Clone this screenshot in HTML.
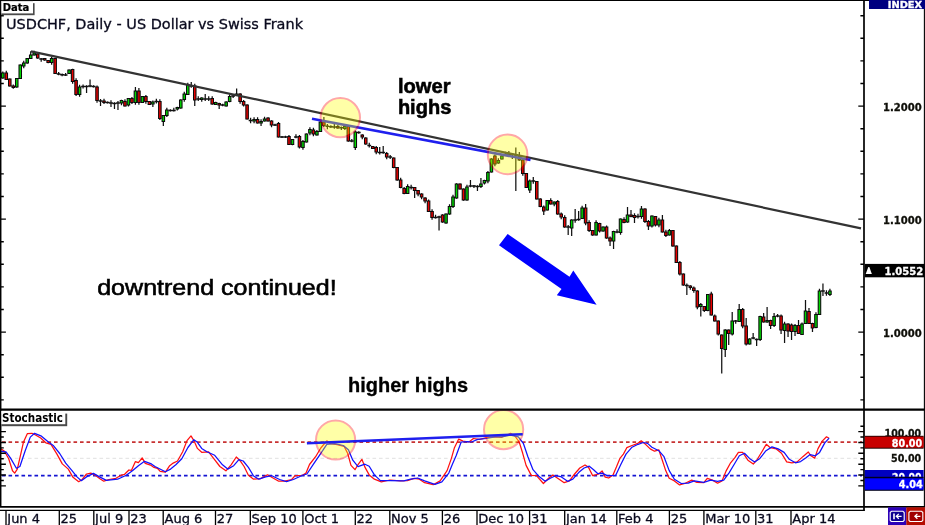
<!DOCTYPE html>
<html lang="en"><head><meta charset="utf-8"><title>USDCHF Daily - Stochastic divergence</title>
<style>html,body{margin:0;padding:0;background:#fff}svg{display:block}</style></head>
<body>
<svg width="925" height="525" viewBox="0 0 925 525">
<rect x="0" y="0" width="925" height="525" fill="#fff"/>
<g fill="none" stroke-width="1.75">
<line x1="2" y1="442.2" x2="862" y2="442.2" stroke="#c83232" stroke-dasharray="3.6 2.9"/>
<line x1="2" y1="458.3" x2="862" y2="458.3" stroke="#e6e6e6" stroke-width="1.2" stroke-dasharray="3.6 2.9"/>
<line x1="2" y1="475.7" x2="862" y2="475.7" stroke="#1414d2" stroke-dasharray="3.6 2.9"/>
</g>
<path d="M2.80 71.5V78.8M6.29 70.8V79.9M9.78 78.6V86.4M13.27 84.5V88.7M16.76 78.1V87.8M20.25 64.6V78.9M23.74 60.8V68.2M27.23 58.1V63.8M30.72 51.3V58.9M34.21 50.8V55.4M37.70 53.6V58.8M41.19 58.1V61.7M44.68 58.1V60.8M48.17 60.1V63.3M51.66 57.0V64.7M55.15 57.7V73.9M58.64 72.0V75.3M62.13 73.6V76.3M65.62 73.0V75.9M69.11 69.6V73.9M72.60 68.7V83.7M76.09 78.3V96.0M79.58 84.8V96.7M83.07 84.5V88.5M86.56 85.2V93.0M90.05 79.5V87.3M93.54 85.2V87.4M97.03 85.5V102.7M100.52 99.0V106.0M104.01 98.8V104.0M107.50 101.6V103.4M110.99 100.3V107.0M114.48 102.2V109.0M117.97 101.0V110.0M121.46 99.7V105.2M124.95 99.3V106.4M128.44 98.1V106.5M131.93 97.0V104.0M135.42 87.0V104.7M138.91 88.0V104.7M142.40 96.1V102.9M145.89 95.0V103.7M149.38 101.1V104.9M152.87 100.5V107.0M156.36 98.8V103.5M159.85 99.3V120.0M163.34 115.1V126.0M166.83 107.8V117.0M170.32 109.2V111.4M173.81 107.8V111.4M177.30 106.7V110.5M180.79 99.2V108.8M184.28 91.8V101.7M187.77 82.8V94.9M191.26 82.0V87.8M194.75 83.8V106.0M198.24 96.3V101.0M201.73 97.2V101.7M205.22 94.0V101.0M208.71 96.3V101.0M212.20 96.3V104.8M215.69 101.7V104.9M219.18 102.7V109.0M222.67 103.7V106.3M226.16 101.2V106.4M229.65 94.3V102.3M233.14 94.0V98.0M236.63 88.5V95.9M240.12 93.2V103.7M243.61 100.0V106.5M247.10 104.2V119.4M250.59 117.8V123.2M254.08 117.3V123.2M257.57 117.3V123.4M261.06 119.3V126.0M264.55 116.8V121.4M268.04 117.2V121.4M271.53 120.2V127.2M275.02 123.7V125.9M278.51 122.0V137.4M282.00 136.1V137.9M285.49 135.7V137.9M288.98 135.0V144.9M292.47 139.1V145.3M295.96 134.3V138.3M299.45 135.0V148.5M302.94 140.0V149.7M306.43 133.6V142.4M309.92 127.3V135.2M313.41 127.8V136.2M316.90 130.0V135.4M320.39 121.2V131.9M323.88 117.0V127.0M327.37 124.0V129.2M330.86 125.2V127.9M334.35 122.0V128.8M337.84 125.0V128.8M341.33 126.6V130.0M344.82 126.1V130.0M348.31 125.0V141.8M351.80 139.0V142.3M355.29 130.5V150.0M358.78 131.2V133.8M362.27 134.2V139.2M365.76 137.2V144.8M369.25 142.8V147.5M372.74 146.1V148.9M376.23 146.0V154.2M379.72 147.0V154.5M383.21 146.0V153.8M386.70 152.0V159.2M390.19 155.0V159.0M393.68 157.6V168.3M397.17 167.1V180.8M400.66 177.8V188.3M404.15 187.0V194.3M407.64 184.3V193.9M411.13 184.8V189.5M414.62 187.1V198.0M418.11 190.1V196.2M421.60 193.2V199.2M425.09 197.2V203.2M428.58 199.5V211.9M432.07 209.3V219.7M435.56 214.8V218.4M439.05 215.7V230.5M442.54 214.2V222.8M446.03 213.6V223.8M449.52 204.3V214.8M453.01 194.8V208.0M456.50 183.2V198.8M459.99 183.6V189.4M463.48 188.6V200.8M466.97 184.8V200.8M470.46 180.0V187.3M473.95 185.1V188.0M477.44 185.2V191.0M480.93 178.0V188.0M484.42 179.7V184.5M487.91 171.0V183.2M491.40 158.2V172.4M494.89 154.5V166.2M498.38 158.3V163.8M501.87 155.2V159.4M505.36 151.8V155.8M508.85 151.0V155.9M512.34 153.2V159.0M515.83 147.5V191.0M519.32 152.0V160.8M522.81 159.2V175.7M526.30 173.1V187.9M529.79 179.5V193.0M533.28 177.0V183.7M536.77 181.1V199.4M540.26 198.2V207.3M543.75 205.5V215.0M547.24 200.1V210.4M550.73 198.3V204.4M554.22 201.6V206.2M557.71 200.0V214.8M561.20 212.5V219.2M564.69 215.3V227.8M568.18 225.0V235.0M571.67 219.2V236.0M575.16 209.0V222.7M578.65 211.0V220.8M582.14 205.8V218.9M585.63 204.0V225.2M589.12 220.3V232.0M592.61 230.1V235.8M596.10 220.3V235.4M599.59 222.7V232.5M603.08 226.6V231.8M606.57 225.5V238.8M610.06 236.5V246.0M613.55 230.7V249.0M617.04 229.3V233.3M620.53 218.6V234.7M624.02 217.3V223.3M627.51 207.0V222.8M631.00 210.0V217.3M634.49 213.3V223.0M637.98 213.8V218.5M641.47 206.0V218.7M644.96 208.2V223.0M648.45 220.0V230.0M651.94 215.6V227.5M655.43 216.1V226.5M658.92 217.8V227.2M662.41 215.0V232.4M665.90 229.8V237.0M669.39 229.0V235.4M672.88 230.1V246.8M676.37 245.6V262.9M679.86 261.0V275.5M683.35 273.6V285.8M686.84 283.5V295.0M690.33 285.2V289.7M693.82 286.5V292.7M697.31 290.2V309.2M700.80 303.0V316.5M704.29 306.1V312.0M707.78 294.1V311.3M711.27 291.8V315.4M714.76 314.5V321.4M718.25 320.6V335.5M721.74 334.6V373.5M725.23 329.2V357.0M728.72 329.6V345.0M732.21 312.0V335.5M735.70 320.1V323.7M739.19 304.0V321.9M742.68 308.0V328.2M746.17 318.0V345.5M749.66 338.2V344.4M753.15 333.0V339.3M756.64 338.6V346.0M760.13 315.7V341.0M763.62 313.0V322.4M767.11 307.0V322.8M770.60 319.7V329.0M774.09 313.0V327.0M777.58 314.0V317.3M781.07 314.5V334.0M784.56 321.8V343.0M788.05 323.2V337.0M791.54 323.5V340.0M795.03 324.0V336.0M798.52 320.0V333.9M802.01 322.5V334.9M805.50 300.0V323.9M808.99 308.0V323.9M812.48 322.7V332.0M815.97 312.3V328.3M819.46 288.8V314.9M822.95 283.5V296.0M826.44 290.3V295.7M829.93 288.8V296.0" stroke="#111" stroke-width="1.25" fill="none"/>
<path d="M39.29 59.0H43.09M56.74 74.0H60.54M60.23 74.8H64.03M63.72 75.0H67.52M81.17 86.5H84.97M84.66 86.5H88.46M88.15 86.0H91.95M91.64 86.5H95.44M98.62 101.0H102.42M105.60 102.5H109.40M109.09 103.0H112.89M112.58 103.5H116.38M116.07 103.0H119.87M154.46 101.5H158.26M168.42 110.5H172.22M171.91 110.5H175.71M189.36 86.0H193.16M196.34 99.0H200.14M203.32 99.0H207.12M206.81 99.0H210.61M220.77 105.0H224.57M231.24 96.0H235.04M248.69 120.5H252.49M273.12 125.0H276.92M280.10 137.0H283.90M283.59 137.0H287.39M294.06 137.0H297.86M325.47 126.2H329.27M328.96 126.8H332.76M332.45 127.0H336.25M339.43 127.8H343.23M349.90 141.0H353.70M356.88 132.5H360.68M367.35 145.5H371.15M377.82 152.5H381.62M381.31 152.5H385.11M388.29 157.0H392.09M409.23 187.5H413.03M433.66 217.5H437.46M437.15 217.0H440.95M468.56 186.0H472.36M472.05 186.0H475.85M475.54 186.5H479.34M503.46 154.5H507.26M506.95 154.8H510.75M510.44 154.5H514.24M513.93 155.0H517.73M531.38 181.0H535.18M566.28 227.0H570.08M573.26 220.0H577.06M576.75 219.5H580.55M615.14 232.0H618.94M636.08 216.5H639.88M684.94 285.5H688.74M733.80 321.0H737.60M751.25 338.0H755.05M754.74 339.5H758.54M775.68 316.0H779.48M821.05 291.0H824.85M824.54 293.0H828.34" stroke="#111" stroke-width="1.5" fill="none"/>
<path d="M1.55 73.0H4.05V78.0H1.55ZM15.51 78.5H18.01V87.0H15.51ZM19.00 65.0H21.50V78.5H19.00ZM22.49 63.0H24.99V66.0H22.49ZM25.98 58.5H28.48V63.0H25.98ZM29.47 55.0H31.97V58.5H29.47ZM32.96 53.0H35.46V55.0H32.96ZM50.41 58.5H52.91V62.5H50.41ZM67.86 70.0H70.36V73.5H67.86ZM78.33 87.0H80.83V94.5H78.33ZM120.21 100.5H122.71V103.0H120.21ZM127.19 98.5H129.69V105.0H127.19ZM134.17 91.0H136.67V102.5H134.17ZM141.15 96.5H143.65V102.5H141.15ZM151.62 102.0H154.12V104.0H151.62ZM162.09 115.5H164.59V121.5H162.09ZM165.58 110.0H168.08V115.5H165.58ZM176.05 107.5H178.55V109.0H176.05ZM179.54 100.0H182.04V108.0H179.54ZM183.03 94.0H185.53V99.5H183.03ZM186.52 85.0H189.02V94.5H186.52ZM200.48 98.0H202.98V99.5H200.48ZM214.44 102.5H216.94V104.5H214.44ZM224.91 102.0H227.41V106.0H224.91ZM228.40 96.5H230.90V101.5H228.40ZM235.38 94.0H237.88V95.5H235.38ZM252.83 119.5H255.33V121.0H252.83ZM259.81 121.5H262.31V123.0H259.81ZM263.30 119.0H265.80V121.0H263.30ZM291.22 139.5H293.72V144.5H291.22ZM301.69 141.5H304.19V147.5H301.69ZM305.18 134.0H307.68V142.0H305.18ZM308.67 129.5H311.17V133.0H308.67ZM315.65 131.5H318.15V135.0H315.65ZM319.14 122.0H321.64V131.5H319.14ZM343.57 126.5H346.07V128.5H343.57ZM354.04 132.0H356.54V147.5H354.04ZM406.39 186.5H408.89V193.5H406.39ZM444.78 214.0H447.28V223.0H444.78ZM448.27 206.5H450.77V214.0H448.27ZM451.76 197.0H454.26V206.5H451.76ZM455.25 184.0H457.75V198.0H455.25ZM465.72 187.0H468.22V200.0H465.72ZM479.68 184.0H482.18V186.5H479.68ZM483.17 180.5H485.67V183.0H483.17ZM486.66 172.5H489.16V181.0H486.66ZM490.15 159.0H492.65V172.0H490.15ZM497.13 160.5H499.63V163.0H497.13ZM500.62 156.0H503.12V159.0H500.62ZM528.54 181.0H531.04V190.0H528.54ZM545.99 200.5H548.49V210.0H545.99ZM552.97 202.0H555.47V204.0H552.97ZM570.42 220.0H572.92V228.0H570.42ZM580.89 208.0H583.39V218.5H580.89ZM594.85 222.5H597.35V235.0H594.85ZM601.83 227.0H604.33V231.0H601.83ZM612.30 231.5H614.80V241.0H612.30ZM619.28 219.0H621.78V232.5H619.28ZM626.26 215.0H628.76V222.0H626.26ZM640.22 209.0H642.72V216.5H640.22ZM650.69 216.0H653.19V226.0H650.69ZM657.67 220.0H660.17V225.0H657.67ZM668.14 230.5H670.64V235.0H668.14ZM699.55 304.5H702.05V306.5H699.55ZM706.53 294.5H709.03V310.5H706.53ZM723.98 330.0H726.48V349.5H723.98ZM730.96 321.0H733.46V334.0H730.96ZM737.94 309.5H740.44V321.5H737.94ZM748.41 339.0H750.91V344.0H748.41ZM758.88 316.5H761.38V339.5H758.88ZM765.86 320.5H768.36V322.0H765.86ZM772.84 316.5H775.34V325.5H772.84ZM783.31 324.0H785.81V330.5H783.31ZM793.78 325.5H796.28V331.5H793.78ZM800.76 324.0H803.26V334.5H800.76ZM804.25 311.0H806.75V323.5H804.25ZM814.72 314.5H817.22V327.5H814.72ZM818.21 291.0H820.71V314.5H818.21ZM828.68 291.0H831.18V294.5H828.68Z" stroke="#0a0a0a" stroke-width="1.05" fill="#00d800"/>
<path d="M5.04 73.0H7.54V79.5H5.04ZM8.53 79.0H11.03V86.0H8.53ZM12.02 86.0H14.52V87.5H12.02ZM36.45 54.0H38.95V58.0H36.45ZM43.43 58.5H45.93V60.0H43.43ZM46.92 60.5H49.42V62.5H46.92ZM53.90 58.5H56.40V73.5H53.90ZM71.35 69.5H73.85V81.5H71.35ZM74.84 80.5H77.34V94.5H74.84ZM95.78 87.0H98.28V100.5H95.78ZM102.76 101.0H105.26V102.5H102.76ZM123.70 101.5H126.20V106.0H123.70ZM130.68 98.5H133.18V102.5H130.68ZM137.66 91.0H140.16V102.5H137.66ZM144.64 96.5H147.14V101.5H144.64ZM148.13 101.5H150.63V104.5H148.13ZM158.60 101.5H161.10V118.5H158.60ZM193.50 86.0H196.00V100.0H193.50ZM210.95 98.5H213.45V104.0H210.95ZM217.93 103.5H220.43V105.0H217.93ZM238.87 94.0H241.37V101.5H238.87ZM242.36 101.5H244.86V105.0H242.36ZM245.85 105.0H248.35V119.0H245.85ZM256.32 119.5H258.82V123.0H256.32ZM266.79 118.0H269.29V121.0H266.79ZM270.28 121.0H272.78V125.0H270.28ZM277.26 123.5H279.76V137.0H277.26ZM287.73 136.5H290.23V144.5H287.73ZM298.20 136.5H300.70V147.0H298.20ZM312.16 130.0H314.66V134.0H312.16ZM322.63 122.0H325.13V125.5H322.63ZM336.59 126.5H339.09V128.0H336.59ZM347.06 126.5H349.56V141.0H347.06ZM361.02 135.0H363.52V137.0H361.02ZM364.51 138.0H367.01V144.0H364.51ZM371.49 146.5H373.99V148.5H371.49ZM374.98 147.5H377.48V152.0H374.98ZM385.45 153.5H387.95V157.0H385.45ZM392.43 158.0H394.93V167.5H392.43ZM395.92 167.5H398.42V180.0H395.92ZM399.41 180.0H401.91V187.5H399.41ZM402.90 188.5H405.40V193.5H402.90ZM413.37 187.5H415.87V190.5H413.37ZM416.86 190.5H419.36V194.0H416.86ZM420.35 194.0H422.85V197.0H420.35ZM423.84 198.0H426.34V201.0H423.84ZM427.33 201.0H429.83V211.5H427.33ZM430.82 211.5H433.32V217.5H430.82ZM441.29 215.0H443.79V222.0H441.29ZM458.74 184.0H461.24V189.0H458.74ZM462.23 189.0H464.73V200.0H462.23ZM493.64 156.0H496.14V164.0H493.64ZM518.07 156.0H520.57V160.0H518.07ZM521.56 160.0H524.06V173.5H521.56ZM525.05 173.5H527.55V187.5H525.05ZM535.52 181.5H538.02V199.0H535.52ZM539.01 199.0H541.51V206.5H539.01ZM542.50 207.0H545.00V211.0H542.50ZM549.48 200.5H551.98V204.0H549.48ZM556.46 201.5H558.96V214.0H556.46ZM559.95 214.0H562.45V217.0H559.95ZM563.44 217.5H565.94V227.0H563.44ZM584.38 208.0H586.88V223.0H584.38ZM587.87 222.5H590.37V230.5H587.87ZM591.36 230.5H593.86V235.0H591.36ZM598.34 223.5H600.84V231.0H598.34ZM605.32 227.0H607.82V238.0H605.32ZM608.81 238.0H611.31V241.0H608.81ZM622.77 219.5H625.27V222.5H622.77ZM629.75 215.0H632.25V216.5H629.75ZM633.24 215.5H635.74V217.5H633.24ZM643.71 209.0H646.21V221.5H643.71ZM647.20 221.5H649.70V226.0H647.20ZM654.18 216.5H656.68V225.0H654.18ZM661.16 220.0H663.66V232.0H661.16ZM664.65 232.0H667.15V235.5H664.65ZM671.63 230.5H674.13V246.0H671.63ZM675.12 246.0H677.62V262.5H675.12ZM678.61 262.5H681.11V274.0H678.61ZM682.10 274.0H684.60V285.0H682.10ZM689.08 286.0H691.58V287.5H689.08ZM692.57 288.0H695.07V290.5H692.57ZM696.06 291.0H698.56V307.0H696.06ZM703.04 306.5H705.54V310.5H703.04ZM710.02 294.0H712.52V315.0H710.02ZM713.51 316.0H716.01V321.0H713.51ZM717.00 321.0H719.50V334.0H717.00ZM720.49 335.0H722.99V348.5H720.49ZM727.47 330.0H729.97V333.5H727.47ZM741.43 309.5H743.93V326.0H741.43ZM744.92 326.0H747.42V344.0H744.92ZM762.37 317.0H764.87V322.0H762.37ZM769.35 320.5H771.85V325.5H769.35ZM779.82 316.0H782.32V330.0H779.82ZM786.80 324.0H789.30V331.0H786.80ZM790.29 325.0H792.79V331.5H790.29ZM797.27 325.5H799.77V333.5H797.27ZM807.74 311.5H810.24V323.5H807.74ZM811.23 323.5H813.73V328.0H811.23Z" stroke="#0a0a0a" stroke-width="1.05" fill="#ea0000"/>
<line x1="31" y1="51.3" x2="861" y2="228.4" stroke="#333" stroke-width="2.2"/>
<line x1="312" y1="118.7" x2="530.5" y2="160" stroke="#1f1fee" stroke-width="2.6"/>
<polyline points="0,448.4 4.3,451 8.7,458.7 12.5,470.8 14.7,473.1 17.3,469.1 19.9,457.9 23.4,442.3 27.3,433.7 32,433.3 35.5,435 40.7,438 45.8,442.8 51,444.4 57.1,454.4 62.3,463.9 68.3,469.1 72.7,476.9 78.7,481.7 82.2,479.5 86.5,474 90.8,473.1 95.2,475.2 100.3,479 103.8,481.2 109,479.5 115.9,478.3 121.1,475.2 124.6,474.3 128.9,470 131.5,470.3 135.3,461.7 138.4,462.7 142.2,457.9 145.3,463.4 150.5,465.1 154,467.4 157.4,468.3 160.2,471.4 165.4,472.1 169.7,465.7 173.2,463.1 177.5,461 182.7,451.8 187,440.6 191,435.9 193.9,440.6 197.4,448.4 201.7,452.3 208.6,451.8 213.8,458.7 219.9,466.5 225.9,470.8 231.1,464.8 236.3,457 240.6,461.3 244.1,466.5 248.4,475.2 253.6,479.2 260.5,478.6 267.5,474.8 272.6,477.8 278.7,481.2 284.8,481.2 291.7,479.5 295.1,475.7 302.1,475.5 306,473.1 309.5,464.5 315.6,456.7 320.8,448 326.8,440.8 330.3,443.7 337.2,444.6 344.1,446.3 347.6,453.2 351,465.3 355,469.7 358,464.5 361.9,459.3 364.9,467.1 369.2,474.9 374.4,479.2 381.3,481.8 390,480 400.3,480.9 407.3,480.6 414.2,478.3 419.4,479.2 424.6,482.7 433.2,484.7 440.1,480.9 447.1,470.6 451.4,458.4 454.3,448.1 458.7,439.1 463,441.1 469,442 473.4,438.5 479.4,439.4 487.2,437.7 495,436.8 501.9,437.3 510.6,433.4 514.9,436 519.2,442 522.7,453.3 526.1,465.4 531.3,475.4 536.5,475.7 543.4,483.5 548.6,478.3 552.9,474.9 557.3,478 564.2,482.7 569.4,480.9 574.6,474 579.8,468 585,465 588.4,467.1 592.7,475.7 598.8,474 602.1,470.9 605.2,477.1 608.7,478 613,474.9 616.4,467.1 619.9,458.4 623.4,454.1 626.8,447.7 632,445.5 637.2,443.7 641.2,440.8 645.8,444.6 650.2,448.9 654.5,451.2 658.8,449.8 662.3,460.2 665.7,470.6 669.2,478.3 674.4,480.9 679.6,484.9 684.8,483.5 691.7,480.1 696.9,482.3 703.8,482.7 707.3,478.3 712.5,480.1 717.6,483.2 722,480.9 726.3,470.6 730.6,462.8 734.9,457.6 738.4,452.4 742.7,452.4 747.9,460.2 753.3,464 757.3,459.3 762.5,450.7 766.3,444.3 770.3,447.7 776.3,448.9 781.5,453.3 786.7,461.9 791.9,462.8 797.1,461.9 803.1,456.4 808.3,452 810.9,455.8 814.7,458.1 817.9,448.9 822.2,441.1 826.5,436.8 829.1,438.2" fill="none" stroke="#ff1010" stroke-width="1.25" stroke-linejoin="round"/>
<polyline points="0,451 6,451.8 10.4,457.9 16.4,468.3 19.9,466.5 25.1,451 30.3,437.1 34.6,433.3 41.5,436.2 48.4,442 53.6,445.8 59.7,453.5 65.7,463.1 71.8,470.3 77,476.9 81.3,480.7 86.5,476.9 93.4,473.4 99.5,476.9 106.4,480.4 117.6,479.2 126.3,475.2 132.4,470.8 138.4,465.7 144.5,461.3 151.4,463.9 155,466.5 165.4,471.7 170.6,469.1 175.8,464.8 181.8,458.7 187.9,447.5 193.9,439.7 197.4,442.3 201.7,448.4 206.9,451.8 214.7,455.3 222.5,464.8 227.7,469.1 233.7,465.7 238.9,459.6 243.2,461 248.4,467.4 253.6,476 258.8,479.2 265.7,476.9 271.8,475.7 279.6,479.5 286.5,481.6 293.4,479.5 302.1,475.5 306.9,474 313.8,463.6 320.8,453.3 326.8,444.3 334.6,443.7 343.3,445.5 348.4,449.8 352.8,460.2 358,466.7 364.9,464.2 369.2,466.2 374.4,474.9 380.4,480.6 390,480.6 403.8,480.9 410.7,479.2 417.6,478 424.6,480.9 434.9,484.4 441.9,481.8 448.8,473.1 452.5,464 456.1,455.8 461.2,442 467.3,441.7 471.6,442 477.7,439.4 486.3,438.5 495,436.8 501.9,436.8 510.6,435.1 518.3,436.8 523.5,443.7 527.9,456.7 533,469.7 539.1,476.6 545.2,481.3 550.3,478.3 555.5,475.7 560.7,476.6 567.6,481.3 572.8,479.2 578.9,472.3 584.1,468 589.3,466.2 593.6,469.7 597.9,473.7 602.2,473.1 606.6,475.4 610,475.7 615.6,475.4 620.8,464.5 626,454.1 632,447.2 638.1,444.3 643.3,442.5 647.6,443.4 651.9,447.2 658.8,450.7 664,456.7 669.2,470.6 674.4,479.2 681.3,483.5 688.2,483.2 694.3,480.9 703.8,482.3 710.7,480.1 717.6,481.3 723.7,480.1 728.9,473.1 734.1,464.5 739.3,455.8 744.5,453.3 749.5,458.4 754.7,461.9 759.9,458.4 766,450.7 772,446.9 778.1,448.9 784.1,452.4 789.3,459.3 795.4,462.8 800.6,461.6 805.7,458.1 810.1,454.6 815.3,455.8 819.6,452.4 824.8,442.9 829.1,438.2" fill="none" stroke="#1010ff" stroke-width="1.25" stroke-linejoin="round"/>
<polygon points="507.6,233.9 499,245.3 561.5,289 556.8,295.2 596.6,304.8 573.3,270.5 569.5,276.8" fill="#0000ff"/>
<circle cx="340.3" cy="117.6" r="19.7" fill="#ffff00" stroke="#ff0000" stroke-width="2" opacity="0.34"/>
<circle cx="507.6" cy="154.4" r="19.8" fill="#ffff00" stroke="#ff0000" stroke-width="2" opacity="0.34"/>
<circle cx="335.6" cy="440" r="19.6" fill="#ffff00" stroke="#ff0000" stroke-width="2" opacity="0.34"/>
<circle cx="503.6" cy="429.6" r="19.6" fill="#ffff00" stroke="#ff0000" stroke-width="2" opacity="0.34"/>
<line x1="306.9" y1="443.2" x2="522.7" y2="434.2" stroke="#1f1fee" stroke-width="2.6"/>
<g stroke="#000" fill="none">
<line x1="0" y1="0.5" x2="869" y2="0.5" stroke-width="1.2"/>
<line x1="0.7" y1="0" x2="0.7" y2="507" stroke-width="1.5"/>
<line x1="864" y1="0" x2="864" y2="510.8" stroke-width="1.7"/>
<line x1="924.4" y1="9" x2="924.4" y2="507" stroke-width="1.1"/>
<line x1="0" y1="409.7" x2="925" y2="409.7" stroke-width="2.2"/>
<line x1="0" y1="506.8" x2="925" y2="506.8" stroke-width="1.8"/>
<line x1="0" y1="510.4" x2="864.8" y2="510.4" stroke-width="1.1"/>
<path d="M860.4 15.7H864M0 15.7H3.8M860.4 38.3H864M0 38.3H3.8M860.4 60.9H864M0 60.9H3.8M860.4 83.5H864M0 83.5H3.8M858.3 106.1H864M0 106.1H5.9M860.4 128.7H864M0 128.7H3.8M860.4 151.3H864M0 151.3H3.8M860.4 173.9H864M0 173.9H3.8M860.4 196.5H864M0 196.5H3.8M858.3 219.1H864M0 219.1H5.9M860.4 241.7H864M0 241.7H3.8M860.4 264.3H864M0 264.3H3.8M860.4 286.9H864M0 286.9H3.8M860.4 309.5H864M0 309.5H3.8M858.3 332.1H864M0 332.1H5.9M860.4 354.7H864M0 354.7H3.8M860.4 377.3H864M0 377.3H3.8M860.4 399.9H864M0 399.9H3.8M860.4 426.2H864M0 431.6H5.9M858.3 431.6H864M0 437.0H3.8M860.4 437.0H864M0 442.5H5.9M858.3 442.5H864M0 447.9H3.8M860.4 447.9H864M0 453.3H5.9M858.3 453.3H864M0 458.8H3.8M860.4 458.8H864M0 464.2H5.9M858.3 464.2H864M0 469.6H3.8M860.4 469.6H864M0 475.0H5.9M858.3 475.0H864M0 480.5H3.8M860.4 480.5H864M0 485.9H5.9M858.3 485.9H864" stroke-width="1.4"/>
<path d="M6.0 510.4V525M59.3 510.4V525M93.8 510.4V525M129.0 510.4V525M163.2 510.4V525M215.5 510.4V525M250.3 510.4V525M302.9 510.4V525M355.3 510.4V525M389.8 510.4V525M442.4 510.4V525M477.0 510.4V525M529.6 510.4V525M564.7 510.4V525M616.8 510.4V525M669.4 510.4V525M703.9 510.4V525M755.8 510.4V525M791.0 510.4V525" stroke-width="1.3"/>
</g>
<g font-family='"DejaVu Sans","Liberation Sans",sans-serif' font-size="13px" fill="#0a0a1e" stroke="#0a0a1e" stroke-width="0.3">
<text x="7.3" y="522.6">Jun 4</text>
<text x="60.6" y="522.6">25</text>
<text x="95.1" y="522.6">Jul 9</text>
<text x="130.3" y="522.6">23</text>
<text x="164.5" y="522.6">Aug 6</text>
<text x="216.8" y="522.6">27</text>
<text x="251.6" y="522.6">Sep 10</text>
<text x="304.2" y="522.6">Oct 1</text>
<text x="356.6" y="522.6">22</text>
<text x="391.1" y="522.6">Nov 5</text>
<text x="443.7" y="522.6">26</text>
<text x="478.3" y="522.6">Dec 10</text>
<text x="530.9" y="522.6">31</text>
<text x="566.0" y="522.6">Jan 14</text>
<text x="618.1" y="522.6">Feb 4</text>
<text x="670.7" y="522.6">25</text>
<text x="705.2" y="522.6">Mar 10</text>
<text x="757.1" y="522.6">31</text>
<text x="792.3" y="522.6">Apr 14</text>
</g>
<text x="6" y="28.8" font-family='"DejaVu Sans","Liberation Sans",sans-serif' font-size="14px" fill="#0a0a1e" stroke="#0a0a1e" stroke-width="0.3" textLength="297" lengthAdjust="spacingAndGlyphs">USDCHF, Daily - US Dollar vs Swiss Frank</text>
<rect x="1.4" y="3.2" width="33.2" height="12" fill="#4a4a4a"/>
<rect x="1.4" y="1.2" width="31.6" height="12.2" fill="#fff"/>
<path d="M1.4 13.4V1.4H33" fill="none" stroke="#bbb" stroke-width="0.5"/>
<text x="2.7" y="11" font-family='"DejaVu Sans Condensed","DejaVu Sans","Liberation Sans",sans-serif' font-weight="bold" font-size="9.6px" stroke="#000" stroke-width="0.2" fill="#000" textLength="26.6" lengthAdjust="spacingAndGlyphs">Data</text>
<rect x="1.4" y="413.6" width="65.8" height="12.6" fill="#4a4a4a"/>
<rect x="1.4" y="411" width="63.9" height="13.2" fill="#fff"/>
<text x="2" y="421.8" font-family='"DejaVu Sans Condensed","DejaVu Sans","Liberation Sans",sans-serif' font-weight="bold" font-size="11.6px" fill="#000" textLength="61" lengthAdjust="spacingAndGlyphs">Stochastic</text>
<g font-family='"DejaVu Sans Condensed","DejaVu Sans","Liberation Sans",sans-serif' font-weight="bold" font-size="11.1px" text-anchor="end" stroke-width="0.3">
<rect x="869" y="0" width="56" height="9" fill="#000080"/>
<text x="922.2" y="7.7" font-size="9px" fill="#fff" stroke="#fff" textLength="34.4" lengthAdjust="spacingAndGlyphs">INDEX</text>
<text x="921.7" y="110.5" fill="#10100a" stroke="#10100a" textLength="38.6" lengthAdjust="spacingAndGlyphs">1.2000</text>
<text x="921.7" y="223.5" fill="#10100a" stroke="#10100a" textLength="38.6" lengthAdjust="spacingAndGlyphs">1.1000</text>
<text x="921.7" y="337.1" fill="#10100a" stroke="#10100a" textLength="38.6" lengthAdjust="spacingAndGlyphs">1.0000</text>
<rect x="864.8" y="263.9" width="59.6" height="13.4" fill="#000"/>
<polygon points="868.3,266.9 869.3,266.9 871.9,274.1 865.7,274.1" fill="#fff"/>
<text x="923.2" y="275.3" fill="#fff" stroke="#fff" textLength="38.6" lengthAdjust="spacingAndGlyphs">1.0552</text>
<clipPath id="c100"><rect x="864" y="420" width="60" height="15.9"/></clipPath>
<text x="921.2" y="436.6" fill="#10100a" stroke="#10100a" clip-path="url(#c100)" textLength="36.6" lengthAdjust="spacingAndGlyphs">100.00</text>
<rect x="864.8" y="435.8" width="58.8" height="12.9" fill="#200000"/>
<rect x="864.8" y="436.7" width="58.8" height="11" fill="#c80000"/>
<text x="922.2" y="446.5" fill="#fff" stroke="#fff" textLength="30.4" lengthAdjust="spacingAndGlyphs">80.00</text>
<text x="921.2" y="462.2" fill="#10100a" stroke="#10100a" textLength="30.2" lengthAdjust="spacingAndGlyphs">50.00</text>
<rect x="864.8" y="470" width="58.8" height="8" fill="#0000c0"/>
<clipPath id="c20"><rect x="864" y="470" width="60" height="6.8"/></clipPath>
<text x="921.6" y="480.8" fill="#fff" stroke="#fff" clip-path="url(#c20)" textLength="29.6" lengthAdjust="spacingAndGlyphs">20.00</text>
<rect x="864.8" y="476.8" width="58.8" height="14" fill="#00001c"/>
<rect x="864.8" y="478.3" width="58.8" height="11.4" fill="#0000ff"/>
<text x="922.8" y="488.4" fill="#fff" stroke="#fff" textLength="24" lengthAdjust="spacingAndGlyphs">4.04</text>
</g>
<rect x="888" y="507.3" width="18.4" height="17.7" fill="#2c00b8"/>
<rect x="906.3" y="507.3" width="18.7" height="17.7" fill="#b40c00"/>
<g stroke="#fff" stroke-width="1.1" stroke-linejoin="round">
<path d="M891.4 511.3H903L904.2 512.5V520.3L903 521.5H891.4L890.2 520.3V512.5Z" fill="#0c0090"/>
<path d="M910.1 511.3H921.6L922.8 512.5V520.3L921.6 521.5H910.1L908.9 520.3V512.5Z" fill="#a00000"/>
</g>
<g fill="none" stroke="#fff">
<path d="M894 513.6V519.2" stroke-width="1.6"/>
<path d="M901.6 516.3H896.6M898.8 513.9L896.3 516.3L898.8 518.7" stroke-width="1.3"/>
<path d="M920.4 516.3H915.2M917.4 513.9L914.9 516.3L917.4 518.7" stroke-width="1.3"/>
</g>
<g font-family='"Liberation Sans",sans-serif' font-weight="bold" fill="#000">
<text x="397.9" y="93.3" font-size="19.6px" stroke="#000" stroke-width="0.55" textLength="52.6" lengthAdjust="spacingAndGlyphs">lower</text>
<text x="397.9" y="113.6" font-size="19.6px" stroke="#000" stroke-width="0.55" textLength="53.4" lengthAdjust="spacingAndGlyphs">highs</text>
<text x="97.2" y="294.8" font-size="22.4px" font-weight="normal" stroke="#000" stroke-width="0.6" textLength="239.5" lengthAdjust="spacingAndGlyphs">downtrend continued!</text>
<text x="348" y="391.7" font-size="19.3px" stroke="#000" stroke-width="0.3" textLength="120" lengthAdjust="spacingAndGlyphs">higher highs</text>
</g>
</svg>
</body></html>
